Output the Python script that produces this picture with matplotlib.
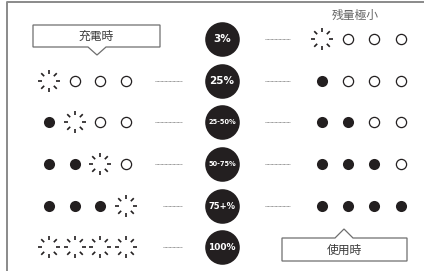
import numpy as np
import matplotlib.pyplot as plt
from matplotlib.patches import Polygon

plt.rcParams['font.family'] = ['Noto Sans CJK JP', 'DejaVu Sans']

# battery levels shown in the middle column
levels = ["3%", "25%", "25-50%", "50-75%", "75+%", "100%"]
# lamp states: b = blinking, f = lit, o = off, "" = no lamps on that row
charging = ["", "booo", "fboo", "ffbo", "fffb", "bbbb"]
in_use = ["booo", "fooo", "ffoo", "fffo", "ffff", ""]
title_low = "残量極小"
label_charge = "充電時"
label_use = "使用時"

# layout in pixels (figure is 424 x 271)
W, H = 424, 271
row_y = [39, 81, 122, 164, 206, 247]
left_x = [49, 75, 100, 126]
right_x = [322, 348, 374, 401]
mid_x = 222
level_fs = [7.5, 7.5, 4.8, 4.8, 6, 6.5]
ink = "#231f20"

fig = plt.figure(figsize=(W / 100, H / 100), dpi=100)
ax = fig.add_axes([0, 0, 1, 1])
ax.set_xlim(0, W)
ax.set_ylim(H, 0)
ax.axis("off")

# frame (top and left only)
ax.plot([7, 7, W], [H, 1.5, 1.5], color="#8a8a8a", lw=1.4, solid_capstyle="butt")


def spark(x, y):
    for a in np.arange(8) * np.pi / 4:
        ax.plot([x + 6.8 * np.cos(a), x + 11 * np.cos(a)],
                [y + 6.8 * np.sin(a), y + 11 * np.sin(a)],
                color=ink, lw=1.2, solid_capstyle="butt")


def lamps(states, xs, y):
    for x, s in zip(xs, states):
        if s == "b":
            spark(x, y)
        elif s == "f":
            ax.scatter([x], [y], s=64, color=ink, lw=0, zorder=3)
        else:
            ax.scatter([x], [y], s=54, facecolor="white", edgecolor=ink,
                       lw=0.9, zorder=3)


for i, lvl in enumerate(levels):
    y = row_y[i]
    ax.scatter([mid_x], [y], s=620, color=ink, lw=0, zorder=3)
    ax.text(mid_x, y + 0.5, lvl, color="white", fontsize=level_fs[i],
            fontweight="bold", family="DejaVu Sans", ha="center", va="center",
            zorder=4)
    if charging[i]:
        lamps(charging[i], left_x, y)
        x0 = 163 if charging[i][-1] == "b" else 155
        ax.plot([x0, 182], [y, y], color="#777777", lw=0.6, ls=(0, (1, 0.6)))
    if in_use[i]:
        lamps(in_use[i], right_x, y)
        ax.plot([265, 290], [y, y], color="#777777", lw=0.6, ls=(0, (1, 0.6)))


def callout(x0, x1, y0, y1, tip_x, tip_y, text, up):
    if up:
        pts = [(x0, y0), (tip_x - 9, y0), (tip_x, tip_y), (tip_x + 9, y0),
               (x1, y0), (x1, y1), (x0, y1)]
    else:
        pts = [(x0, y0), (x1, y0), (x1, y1), (tip_x + 9, y1), (tip_x, tip_y),
               (tip_x - 9, y1), (x0, y1)]
    ax.add_patch(Polygon(pts, closed=True, facecolor="white",
                         edgecolor="#6e6e6e", lw=0.9, zorder=2))
    ax.text((x0 + x1) / 2, (y0 + y1) / 2 + 0.5, text, color="#3a3a3a",
            fontsize=8.5, ha="center", va="center", zorder=3)


callout(33, 160, 25, 47, 97, 55, label_charge, up=False)
callout(282, 407, 238, 261, 344, 229, label_use, up=True)

ax.text(355, 15, title_low, color="#666666", fontsize=8.5, ha="center",
        va="center")

fig.savefig("out.png", dpi=100)
